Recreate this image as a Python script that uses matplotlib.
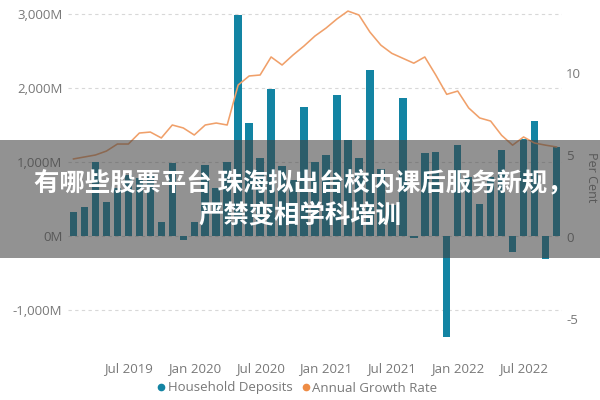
import numpy as np
import matplotlib
matplotlib.use("Agg")
import matplotlib.pyplot as plt
import matplotlib.patches as mpatches
from matplotlib.lines import Line2D
from matplotlib.ticker import FuncFormatter

# monthly data, Feb 2019 .. Oct 2022
months = ["Feb 2019", "Mar 2019", "Apr 2019", "May 2019", "Jun 2019", "Jul 2019",
          "Aug 2019", "Sep 2019", "Oct 2019", "Nov 2019", "Dec 2019", "Jan 2020",
          "Feb 2020", "Mar 2020", "Apr 2020", "May 2020", "Jun 2020", "Jul 2020",
          "Aug 2020", "Sep 2020", "Oct 2020", "Nov 2020", "Dec 2020", "Jan 2021",
          "Feb 2021", "Mar 2021", "Apr 2021", "May 2021", "Jun 2021", "Jul 2021",
          "Aug 2021", "Sep 2021", "Oct 2021", "Nov 2021", "Dec 2021", "Jan 2022",
          "Feb 2022", "Mar 2022", "Apr 2022", "May 2022", "Jun 2022", "Jul 2022",
          "Aug 2022", "Sep 2022", "Oct 2022"]

deposits = [320, 390, 1000, 460, 650, 820, 780, 830, 190, 990, -60, 190,
            960, 650, 1000, 2990, 1530, 1050, 1990, 950, 750, 1740, 1000, 1100,
            1910, 1300, 1050, 2240, 900, 420, 1860, -30, 1120, 1140, -1370, 1230,
            800, 430, 800, 1160, -220, 1310, 1550, -310, 1200]

growth = [4.76, 4.88, 5.0, 5.24, 5.67, 5.67, 6.34, 6.4, 6.04, 6.83, 6.65, 6.22,
          6.83, 6.95, 6.83, 9.27, 9.82, 9.88, 10.98, 10.49, 11.1, 11.65, 12.26, 12.74,
          13.3, 13.78, 13.54, 12.5, 11.7, 11.2, 10.9, 10.6, 10.98, 9.88, 8.7, 8.9,
          7.87, 7.26, 7.07, 6.2, 5.6, 6.1, 5.73, 5.6, 5.49]

tick_labels = ["Jul 2019", "Jan 2020", "Jul 2020", "Jan 2021", "Jul 2021", "Jan 2022", "Jul 2022"]
left_ticks = [-1000, 0, 1000, 2000, 3000]
right_ticks = [-5, 0, 5, 10]

title_line1 = "有哪些股票平台 珠海拟出台校内课后服务新规，"
title_line2 = "严禁变相学科培训"

bar_color = "#1384A3"
line_color = "#F0A06A"
dot_orange = "#EE8C45"
text_color = "#787878"

plt.rcParams["font.family"] = ["Open Sans", "DejaVu Sans"]

fig = plt.figure(figsize=(6, 4), dpi=100)
ax = fig.add_axes([68 / 600, 0.1375, 494 / 600, 0.85])
ax2 = ax.twinx()

x = np.arange(len(months))
ax.bar(x, deposits, width=0.68, color=bar_color, zorder=2)
ax2.plot(x, growth, color=line_color, lw=1.15, zorder=3)

ax.set_xlim(-0.5, len(months) - 0.5)
ax.set_ylim(-1473, 3121)
ax2.set_ylim(-6.59, 14.15)

ax.set_yticks(left_ticks)
ax.yaxis.set_major_formatter(FuncFormatter(lambda v, p: format(int(v), ",") + "M"))
ax2.set_yticks(right_ticks)
ax2.set_yticklabels([str(t) for t in right_ticks])

ax.set_xticks([months.index(t) for t in tick_labels])
ax.set_xticklabels(tick_labels)

ax.grid(axis="y", color="#d8d8d8", lw=0.8, linestyle=(0, (3, 3)), zorder=0)
ax.set_axisbelow(True)

for a in (ax, ax2):
    for s in a.spines.values():
        s.set_visible(False)
ax.tick_params(axis="both", length=0, labelsize=9.5, labelcolor=text_color)
ax.tick_params(axis="x", pad=12)
ax.tick_params(axis="y", pad=4)
ax2.tick_params(axis="y", length=0, labelsize=9.5, labelcolor=text_color, pad=3)

fig.text(592 / 600, 1 - 177 / 400, "Per Cent", rotation=270, ha="center", va="center",
         fontsize=9, color=text_color)

handles = [Line2D([], [], marker="o", ls="", color=bar_color, markersize=4.5),
           Line2D([], [], marker="o", ls="", color=dot_orange, markersize=4.5)]
fig.legend(handles, ["Household Deposits", "Annual Growth Rate"], loc="center",
           bbox_to_anchor=(0.493, 1 - 388 / 400), ncol=2, frameon=False,
           handletextpad=0.0, columnspacing=0.5, fontsize=9.5, labelcolor=text_color,
           handlelength=1.0)

# overlay banner
banner = mpatches.Rectangle((0, 1 - 258 / 400), 1, 118 / 400, transform=fig.transFigure,
                            facecolor="#404040", alpha=0.57, edgecolor="none", zorder=10)
fig.add_artist(banner)
cjk = ["Noto Sans CJK SC", "DejaVu Sans"]
fig.text(0.505, 1 - 183 / 400, title_line1, ha="center", va="center", fontsize=18.3,
         fontweight="bold", color="white", family=cjk, zorder=11)
fig.text(0.5, 1 - 215 / 400, title_line2, ha="center", va="center", fontsize=18.3,
         fontweight="bold", color="white", family=cjk, zorder=11)

fig.savefig("out.png", dpi=100)
